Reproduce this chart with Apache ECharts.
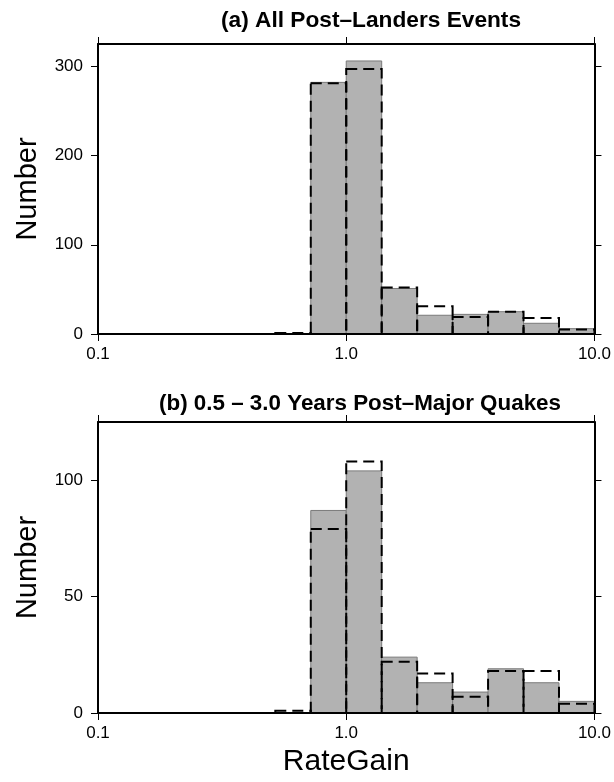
<!DOCTYPE html>
<html>
<head>
<meta charset="utf-8">
<script src="https://cdn.jsdelivr.net/npm/echarts@6/dist/echarts.min.js"></script>
<style>html,body{margin:0;padding:0;background:#fff;}#c{width:614px;height:782px;}</style>
</head>
<body>
<div id="c"></div>
<script>
// Logarithmic bin edges (RateGain), 7 bins per decade
const binEdges = [0.1, 0.13895, 0.19307, 0.26827, 0.37276, 0.51795, 0.71969, 1.0, 1.38950, 1.93070, 2.68270, 3.72759, 5.17947, 7.19686, 10.0];
// Panel (a): All Post-Landers Events
const grayA = [0, 0, 0, 0, 0, 0, 282, 306, 51, 21, 22, 25, 12, 6];
const dashA = [0, 0, 0, 0, 0, 1, 281, 297, 52, 31, 19, 25, 18, 5];
// Panel (b): 0.5 - 3.0 Years Post-Major Quakes
const grayB = [0, 0, 0, 0, 0, 0, 87, 104, 24, 13, 9, 19, 13, 5];
const dashB = [0, 0, 0, 0, 0, 1, 79, 108, 22, 17, 7, 18, 18, 4];
const xTicks = [0.1, 1, 10];
const yTicksA = [0, 100, 200, 300];
const yTicksB = [0, 50, 100];
const titleA = '(a) All Post\u2013Landers Events';
const titleB = '(b) 0.5 \u2013 3.0 Years Post\u2013Major Quakes';

const FONT = '"Liberation Sans", Arial, Helvetica, sans-serif';

function binData(vals) {
  return vals.map((v, i) => [binEdges[i], binEdges[i + 1], v]);
}

function rectRender(style) {
  return function (params, api) {
    const p0 = api.coord([api.value(0), api.value(2)]);
    const p1 = api.coord([api.value(1), 0]);
    return {
      type: 'rect',
      shape: { x: p0[0], y: p0[1], width: p1[0] - p0[0], height: p1[1] - p0[1] },
      style: style
    };
  };
}

const grayStyle = { fill: '#b2b2b2', stroke: '#7a7a7a', lineWidth: 1 };
const dashStyle = { fill: 'none', stroke: '#000', lineWidth: 2, lineDash: [11, 6] };

function xAxisDef(gridIndex, position, showLabels, name) {
  return {
    type: 'log', logBase: 10, gridIndex: gridIndex, position: position,
    min: 0.1, max: 10, z: 10,
    axisLine: { show: true, onZero: false, lineStyle: { color: '#000', width: 2 } },
    axisTick: { show: true, length: 7, customValues: xTicks, lineStyle: { color: '#000', width: 1 } },
    minorTick: { show: false },
    splitLine: { show: false },
    axisLabel: {
      show: showLabels, customValues: xTicks, margin: 12,
      fontSize: 17, fontFamily: FONT, color: '#000',
      formatter: v => Number(v).toFixed(1)
    },
    name: name || '', nameLocation: 'middle', nameGap: 34,
    nameTextStyle: { fontSize: 30, fontFamily: FONT, color: '#000' }
  };
}

function yAxisDef(gridIndex, position, max, ticks, showLabels, name) {
  return {
    type: 'value', gridIndex: gridIndex, position: position,
    min: 0, max: max, z: 10,
    axisLine: { show: true, onZero: false, lineStyle: { color: '#000', width: 2 } },
    axisTick: { show: true, length: 7, customValues: ticks, lineStyle: { color: '#000', width: 1 } },
    splitLine: { show: false },
    axisLabel: {
      show: showLabels, customValues: ticks, margin: 15,
      fontSize: 17, fontFamily: FONT, color: '#000'
    },
    name: name || '', nameLocation: 'middle', nameGap: 56,
    nameTextStyle: { fontSize: 29, fontFamily: FONT, color: '#000' }
  };
}

const chart = echarts.init(document.getElementById('c'), null, { renderer: 'canvas' });
chart.setOption({
  animation: false,
  backgroundColor: '#fff',
  title: [
    { text: titleA, left: 366, top: 4, textAlign: 'center',
      textStyle: { fontSize: 22.7, fontWeight: 'bold', fontFamily: FONT, color: '#000' } },
    { text: titleB, left: 355, top: 388, textAlign: 'center',
      textStyle: { fontSize: 22.4, fontWeight: 'bold', fontFamily: FONT, color: '#000' } }
  ],
  grid: [
    { left: 98, top: 44, width: 497, height: 290 },
    { left: 98, top: 422, width: 497, height: 291 }
  ],
  xAxis: [
    xAxisDef(0, 'bottom', true),
    xAxisDef(0, 'top', false),
    xAxisDef(1, 'bottom', true, 'RateGain'),
    xAxisDef(1, 'top', false)
  ],
  yAxis: [
    yAxisDef(0, 'left', 325, yTicksA, true, 'Number'),
    yAxisDef(0, 'right', 325, yTicksA, false),
    yAxisDef(1, 'left', 125, yTicksB, true, 'Number'),
    yAxisDef(1, 'right', 125, yTicksB, false)
  ],
  series: [
    { type: 'custom', name: 'grayA', xAxisIndex: 0, yAxisIndex: 0, data: binData(grayA),
      renderItem: rectRender(grayStyle), encode: { x: [0, 1], y: 2 }, z: 2 },
    { type: 'custom', name: 'dashA', xAxisIndex: 0, yAxisIndex: 0, data: binData(dashA),
      renderItem: rectRender(dashStyle), encode: { x: [0, 1], y: 2 }, z: 3 },
    { type: 'custom', name: 'grayB', xAxisIndex: 2, yAxisIndex: 2, data: binData(grayB),
      renderItem: rectRender(grayStyle), encode: { x: [0, 1], y: 2 }, z: 2 },
    { type: 'custom', name: 'dashB', xAxisIndex: 2, yAxisIndex: 2, data: binData(dashB),
      renderItem: rectRender(dashStyle), encode: { x: [0, 1], y: 2 }, z: 3 }
  ]
});
</script>
</body>
</html>
